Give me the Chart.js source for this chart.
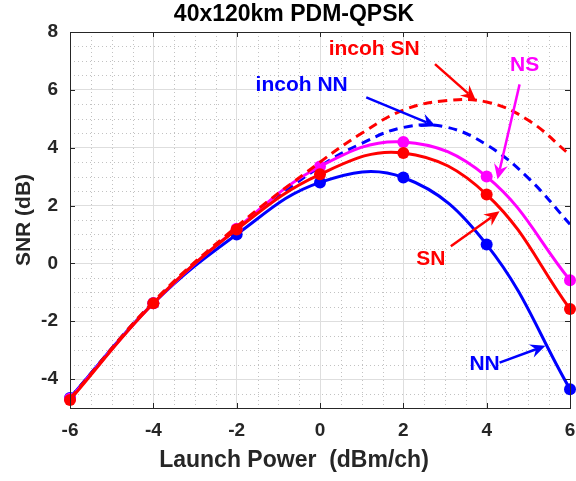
<!DOCTYPE html>
<html><head><meta charset="utf-8">
<script src="https://cdn.jsdelivr.net/npm/chart.js@4/dist/chart.umd.min.js"></script>
<style>html,body{margin:0;padding:0;background:#fff}</style>
</head><body>
<canvas id="c" width="576" height="481"></canvas>
<script>
const launchPower = [-6, -4, -2, 0, 2, 4, 6];
const snrNN = [-4.65, -1.38, 1.0, 2.8, 2.97, 0.65, -4.35];
const snrSN = [-4.72, -1.38, 1.17, 3.08, 3.82, 2.38, -1.58];
const snrNS = [-4.68, -1.38, 1.2, 3.35, 4.2, 3.0, -0.58];
const launchPowerIncoh = [-6, -4, -2, 0, 1, 2, 3, 4, 5, 6];
const snrIncohNN = [-4.65, -1.35, 1.2, 3.35, 4.15, 4.7, 4.72, 4.1, 2.95, 1.35];
const snrIncohSN = [-4.68, -1.33, 1.27, 3.5, 4.5, 5.3, 5.62, 5.58, 4.95, 3.75];
const xTickValues = [-6, -4, -2, 0, 2, 4, 6];
const yTickValues = [-4, -2, 0, 2, 4, 6, 8];
const chartTitle = '40x120km PDM-QPSK';
const xTitle = 'Launch Power  (dBm/ch)';
const yTitle = 'SNR (dB)';
const noteText = ['incoh SN', 'incoh NN', 'NS', 'SN', 'NN'];
const noteAt = [[1.3, 7.4], [-0.44, 6.16], [4.91, 6.85], [2.66, 0.14], [3.95, -3.49]];
const arrowFrom = [[2.76, 6.89], [1.11, 5.74], [4.79, 6.19], [3.14, 0.59], [4.31, -3.43]];
const arrowTo = [[3.74, 5.64], [2.78, 4.74], [4.26, 2.91], [4.31, 1.80], [5.41, -2.85]];

const BLUE = '#0000ff', RED = '#ff0000', MAG = '#ff00ff';
const noteColors = [RED, BLUE, MAG, RED, BLUE];
const FONT = "'Liberation Sans', Arial, Helvetica, sans-serif";
const TITLE_CX = 294;

function pts(xs, ys) { return xs.map((x, i) => ({ x: x, y: ys[i] })); }

function ds(label, xs, ys, color, dashed) {
  return {
    label: label, data: pts(xs, ys), borderColor: color, backgroundColor: color,
    borderWidth: 3, tension: 0.4, clip: false,
    borderDash: dashed ? [9, 6] : [],
    pointRadius: dashed ? 0 : 6, pointHoverRadius: 0,
    pointBackgroundColor: color, pointBorderColor: color, pointBorderWidth: 0
  };
}

const matlabAxes = {
  id: 'matlabAxes',
  beforeDatasetsDraw(chart) {
    const { ctx, chartArea: a, scales: { x, y } } = chart;
    ctx.save();
    ctx.strokeStyle = '#c2c2c2';
    ctx.lineWidth = 1;
    ctx.setLineDash([1, 3]);
    for (let v = x.min; v <= x.max + 1e-9; v += 0.5) {
      if (Math.abs(v % 2) < 1e-9) continue;
      const px = Math.round(x.getPixelForValue(v)) + 0.5;
      ctx.beginPath(); ctx.moveTo(px, a.top); ctx.lineTo(px, a.bottom); ctx.stroke();
    }
    for (let v = y.min; v <= y.max + 1e-9; v += 0.5) {
      if (Math.abs(v % 2) < 1e-9) continue;
      const py = Math.round(y.getPixelForValue(v)) + 0.5;
      ctx.beginPath(); ctx.moveTo(a.left, py); ctx.lineTo(a.right, py); ctx.stroke();
    }
    ctx.restore();
  },
  afterDatasetsDraw(chart) {
    const { ctx, chartArea: a, scales: { x, y } } = chart;
    ctx.save();
    ctx.strokeStyle = '#262626';
    ctx.lineWidth = 1;
    ctx.setLineDash([]);
    ctx.strokeRect(Math.round(a.left) + 0.5, Math.round(a.top) + 0.5,
      Math.round(a.right - a.left), Math.round(a.bottom - a.top));
    const tl = 5;
    xTickValues.forEach(v => {
      const px = Math.round(x.getPixelForValue(v)) + 0.5;
      ctx.beginPath();
      ctx.moveTo(px, a.bottom); ctx.lineTo(px, a.bottom - tl);
      ctx.moveTo(px, a.top); ctx.lineTo(px, a.top + tl);
      ctx.stroke();
    });
    yTickValues.forEach(v => {
      const py = Math.round(y.getPixelForValue(v)) + 0.5;
      ctx.beginPath();
      ctx.moveTo(a.left, py); ctx.lineTo(a.left + tl, py);
      ctx.moveTo(a.right, py); ctx.lineTo(a.right - tl, py);
      ctx.stroke();
    });
    // titles
    ctx.fillStyle = '#000';
    ctx.textAlign = 'center'; ctx.textBaseline = 'middle';
    ctx.font = 'bold 23px ' + FONT;
    ctx.fillText(chartTitle, TITLE_CX, 15);
    ctx.fillStyle = '#262626';
    ctx.font = 'bold 23px ' + FONT;
    ctx.fillText(xTitle, TITLE_CX, 461);
    // annotations
    noteText.forEach((t, i) => {
      const c = noteColors[i];
      ctx.fillStyle = c; ctx.strokeStyle = c;
      ctx.font = 'bold 21px ' + FONT;
      ctx.textAlign = 'center'; ctx.textBaseline = 'middle';
      ctx.fillText(t, x.getPixelForValue(noteAt[i][0]), y.getPixelForValue(noteAt[i][1]));
      const x1 = x.getPixelForValue(arrowFrom[i][0]), y1 = y.getPixelForValue(arrowFrom[i][1]);
      const x2 = x.getPixelForValue(arrowTo[i][0]), y2 = y.getPixelForValue(arrowTo[i][1]);
      const ang = Math.atan2(y2 - y1, x2 - x1);
      const L = 15, W = 7, back = 10;
      ctx.lineWidth = 2.5;
      ctx.beginPath();
      ctx.moveTo(x1, y1);
      ctx.lineTo(x2 - back * Math.cos(ang), y2 - back * Math.sin(ang));
      ctx.stroke();
      ctx.beginPath();
      ctx.moveTo(x2, y2);
      ctx.lineTo(x2 - L * Math.cos(ang) + W * Math.sin(ang), y2 - L * Math.sin(ang) - W * Math.cos(ang));
      ctx.lineTo(x2 - back * Math.cos(ang), y2 - back * Math.sin(ang));
      ctx.lineTo(x2 - L * Math.cos(ang) - W * Math.sin(ang), y2 - L * Math.sin(ang) + W * Math.cos(ang));
      ctx.closePath();
      ctx.fill();
    });
    ctx.restore();
  }
};

const tickFont = { family: FONT, size: 19, weight: 'bold' };
const titleFont = { family: FONT, size: 21, weight: 'bold' };

new Chart(document.getElementById('c'), {
  type: 'line',
  data: {
    datasets: [
      ds('incoh SN', launchPowerIncoh, snrIncohSN, RED, true),
      ds('SN', launchPower, snrSN, RED, false),
      ds('NS', launchPower, snrNS, MAG, false),
      ds('incoh NN', launchPowerIncoh, snrIncohNN, BLUE, true),
      ds('NN', launchPower, snrNN, BLUE, false)
    ]
  },
  options: {
    responsive: false, animation: false, devicePixelRatio: 1,
    layout: { padding: { left: 0, right: 2, top: 32, bottom: 0 } },
    plugins: { legend: { display: false }, tooltip: { enabled: false }, title: { display: false } },
    scales: {
      x: {
        type: 'linear', min: -6, max: 6,
        afterBuildTicks: s => { s.ticks = xTickValues.map(v => ({ value: v })); },
        afterFit: s => { s.height = 73; s.paddingRight = 0; s.paddingLeft = 0; },
        grid: { color: '#dedede', lineWidth: 1, drawTicks: false },
        border: { display: false },
        ticks: { padding: 11, color: '#262626', font: tickFont, maxRotation: 0, autoSkip: false },
        title: { display: false }
      },
      y: {
        type: 'linear', min: -5, max: 8,
        afterBuildTicks: s => { s.ticks = yTickValues.map(v => ({ value: v })); },
        afterFit: s => { s.width = 70; s.paddingTop = 0; s.paddingBottom = 0; },
        grid: { color: '#dedede', lineWidth: 1, drawTicks: false },
        border: { display: false },
        ticks: { padding: 12, color: '#262626', font: tickFont, autoSkip: false },
        title: { display: true, text: yTitle, color: '#262626', font: titleFont, padding: { top: 12, bottom: 0 } }
      }
    }
  },
  plugins: [matlabAxes]
});
</script>
</body></html>
